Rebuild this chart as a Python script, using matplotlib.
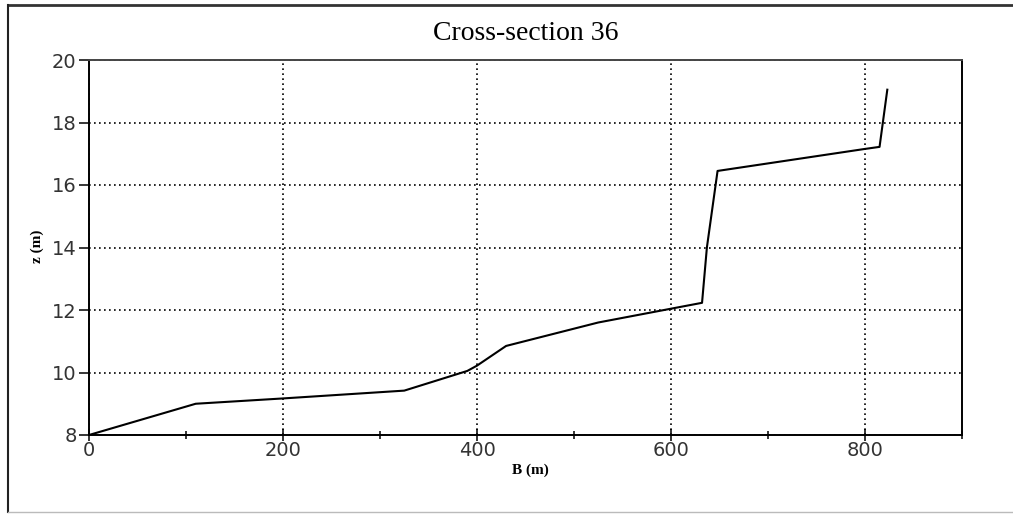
import matplotlib
matplotlib.use("Agg")
import matplotlib.pyplot as plt
from matplotlib.lines import Line2D
from matplotlib.ticker import MultipleLocator

# data
B_m = [0, 110, 200, 325, 390, 400, 430, 525, 598, 632, 637, 648, 799, 815, 823]
z_m = [8.0, 9.0, 9.17, 9.42, 10.05, 10.22, 10.85, 11.6, 12.03, 12.23, 14.0, 16.45, 17.15, 17.22, 19.05]
x_ticks = [0, 200, 400, 600, 800]
y_ticks = [8, 10, 12, 14, 16, 18, 20]
title = "Cross-section 36"

fig = plt.figure(figsize=(10.13, 5.17), dpi=100)
ax = fig.add_axes([89/1013, 1 - 435/517, (962-89)/1013, (435-60)/517])

ax.plot(B_m, z_m, color="black", lw=1.5)
ax.set_xlim(0, 900)
ax.set_ylim(8, 20)
ax.set_xticks(x_ticks)
ax.set_yticks(y_ticks)
ax.xaxis.set_minor_locator(MultipleLocator(100))
ax.grid(True, which="major", linestyle=(0, (1, 2)), color="black", lw=1.2)
ax.tick_params(axis="x", which="major", direction="inout", length=9, width=1.1, labelsize=14, pad=0,
               labelcolor="#333333")
ax.tick_params(axis="x", which="minor", direction="inout", length=6, width=1.1)
ax.tick_params(axis="y", which="major", direction="out", length=7, width=1.1, labelsize=14, pad=2,
               labelcolor="#333333")
for s in ax.spines.values():
    s.set_linewidth(1.4)
ax.spines["top"].set_color("#444444")

fig.text(0.5 * (89 + 962) / 1013, 1 - 33/517, title, ha="center", va="center",
         fontsize=20, family=["Liberation Serif", "DejaVu Serif"])
fig.text(530/1013, 1 - 470/517, "B (m)", ha="center", va="center", fontsize=11,
         fontweight="bold", family=["Liberation Serif", "DejaVu Serif"])
fig.text(37/1013, 1 - 246/517, "z (m)", ha="center", va="center", fontsize=11,
         fontweight="bold", rotation=90, family=["Liberation Serif", "DejaVu Serif"])

# outer frame
fig.add_artist(Line2D([8/1013, 1.0], [1 - 5/517, 1 - 5/517], transform=fig.transFigure, color="#333333", lw=2))
fig.add_artist(Line2D([8/1013, 8/1013], [1 - 5/517, 1 - 512/517], transform=fig.transFigure, color="#222222", lw=1.5))
fig.add_artist(Line2D([8/1013, 1.0], [1 - 512/517, 1 - 512/517], transform=fig.transFigure, color="#bbbbbb", lw=1))

fig.savefig("out.png", dpi=100)
